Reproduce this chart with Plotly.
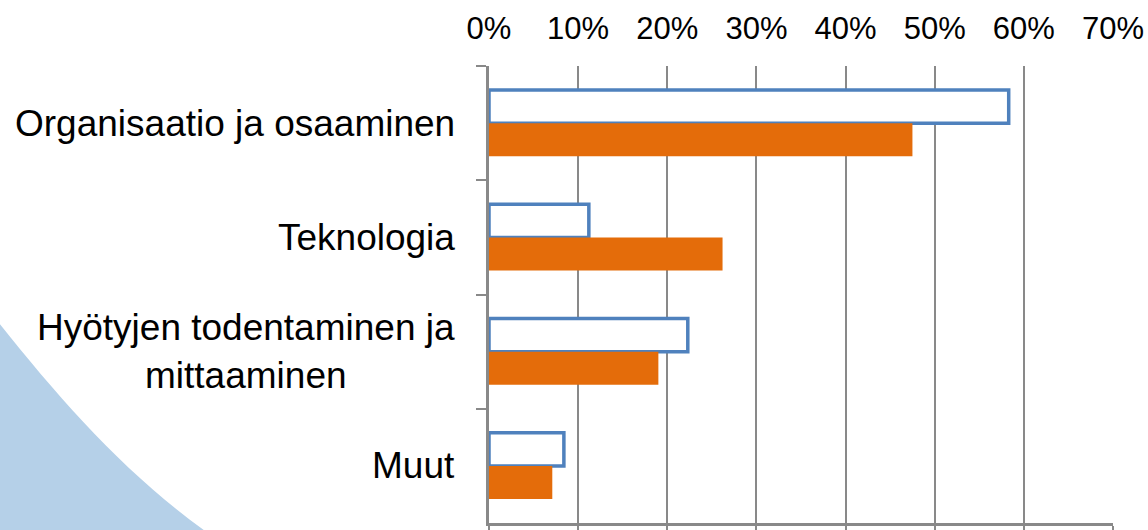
import plotly.graph_objects as go

categories = ["Organisaatio ja osaaminen", "Teknologia", "Hyötyjen todentaminen ja<br>mittaaminen", "Muut"]
series_a = [0.583, 0.112, 0.223, 0.084]   # white bars, blue outline
series_b = [0.475, 0.262, 0.190, 0.071]   # orange bars
x_ticks = [0, 0.1, 0.2, 0.3, 0.4, 0.5, 0.6, 0.7]

GRID = "#898989"
FONT = "Liberation Sans, Arial, sans-serif"

fig = go.Figure()
fig.add_trace(go.Bar(
    y=categories, x=series_a, orientation="h", name="A",
    marker=dict(color="white", line=dict(color="#4F81BD", width=3.5)),
    xaxis="x", yaxis="y",
))
fig.add_trace(go.Bar(
    y=categories, x=series_b, orientation="h", name="B",
    marker=dict(color="#E46C0A", line=dict(width=0)),
    xaxis="x", yaxis="y",
))
# invisible trace to carry the top (label) axis
fig.add_trace(go.Scatter(
    y=categories, x=series_a, mode="markers", marker=dict(opacity=0),
    xaxis="x2", yaxis="y", showlegend=False, hoverinfo="skip",
))

# y category labels as centred annotations
for c in categories:
    fig.add_annotation(
        x=0, xref="paper", y=c, yref="y", xanchor="right", yanchor="middle",
        xshift=-32, text=c, showarrow=False, align="center",
        font=dict(family=FONT, size=37, color="#000000"),
    )

# decorative light-blue shape bottom-left (paper coords)
def px(xp):
    return (xp - 489) / 624.0

def py(yp):
    return (523 - yp) / 457.0

path = (
    f"M {px(-5)},{py(318)} "
    f"C {px(60)},{py(400)} {px(130)},{py(480)} {px(218)},{py(540)} "
    f"L {px(-5)},{py(540)} Z"
)
fig.add_shape(type="path", path=path, xref="paper", yref="paper",
              fillcolor="#B5D0E8", line=dict(width=0), layer="below")

fig.update_layout(
    width=1148, height=530,
    margin=dict(l=489, r=35, t=66, b=7, autoexpand=False),
    paper_bgcolor="white", plot_bgcolor="rgba(0,0,0,0)",
    barmode="group", bargap=0.42, bargroupgap=0.0,
    showlegend=False,
    font=dict(family=FONT, color="#000000"),
    xaxis=dict(
        range=[0, 0.7], tickvals=x_ticks, showticklabels=False,
        showgrid=True, gridcolor=GRID, gridwidth=2,
        showline=True, linecolor=GRID, linewidth=3,
        ticks="outside", ticklen=7, tickwidth=2, tickcolor=GRID,
        zeroline=False, side="bottom", automargin=False,
    ),
    xaxis2=dict(
        range=[0, 0.7], tickvals=x_ticks, tickformat=".0%",
        overlaying="x", side="top", matches="x",
        showgrid=False, showline=False, zeroline=False,
        ticks="", ticklabelstandoff=20, automargin=False,
        tickfont=dict(family=FONT, size=31, color="#000000"),
    ),
    yaxis=dict(
        autorange="reversed", showticklabels=False,
        showline=True, linecolor=GRID, linewidth=3,
        ticks="outside", tickson="boundaries", ticklen=10, tickwidth=2, tickcolor=GRID,
        showgrid=False, zeroline=False, automargin=False,
    ),
)

fig.write_html(
    "out.html",
    config={"displayModeBar": False, "staticPlot": True},
    post_script="document.body.style.margin='0px';document.body.style.overflow='hidden';",
)
